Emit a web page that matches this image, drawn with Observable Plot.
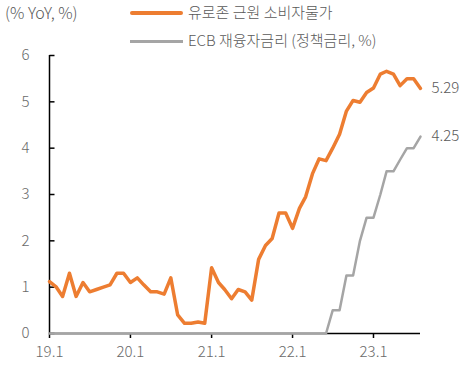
<!DOCTYPE html>
<html><head><meta charset="utf-8">
<script src="https://cdn.jsdelivr.net/npm/d3@7"></script>
<script src="https://cdn.jsdelivr.net/npm/@observablehq/plot@0.6"></script>
<style>
body{margin:0;background:#fff;font-family:"Noto Sans CJK KR","Noto Sans",sans-serif;font-weight:300;}
#wrap{position:relative;width:465px;height:384px;}
.lg{position:absolute;font-size:15px;color:#595959;white-space:nowrap;line-height:1;font-weight:300;}
.sw{position:absolute;}
</style></head><body>
<div id="wrap">
  <div class="lg" style="left:5px;top:4px;font-size:16px;">(% YoY, %)</div>
  <div class="sw" style="left:130px;top:11px;width:53px;height:4px;background:#ED7D31;border-radius:2px;"></div>
  <div class="lg" style="left:188px;top:4px;">유로존 근원 소비자물가</div>
  <div class="sw" style="left:130px;top:40px;width:53px;height:2.5px;background:#A5A5A5;"></div>
  <div class="lg" style="left:188px;top:32px;">ECB 재융자금리 (정책금리, %)</div>
  <div id="chart" style="position:absolute;left:0;top:0;"></div>
</div>
<script>
const coreHICP = [
  1.12, 1.0, 0.8, 1.3, 0.8, 1.1, 0.9, 0.95, 1.0, 1.05, 1.3, 1.3,
  1.1, 1.2, 1.05, 0.9, 0.9, 0.85, 1.2, 0.4, 0.22, 0.22, 0.25, 0.22,
  1.42, 1.1, 0.95, 0.75, 0.95, 0.9, 0.72, 1.6, 1.9, 2.05, 2.6, 2.6,
  2.27, 2.7, 2.95, 3.45, 3.77, 3.73, 4.0, 4.3, 4.8, 5.03, 4.99, 5.2,
  5.3, 5.6, 5.66, 5.6, 5.35, 5.5, 5.5, 5.29
];
const ecbRate = [
  0,0,0,0,0,0,0,0,0,0,0,0,
  0,0,0,0,0,0,0,0,0,0,0,0,
  0,0,0,0,0,0,0,0,0,0,0,0,
  0,0,0,0,0,0,0.5,0.5,1.25,1.25,2.0,2.5,
  2.5,3.0,3.5,3.5,3.75,4.0,4.0,4.25
];
const xTickLabels = ["19.1","20.1","21.1","22.1","23.1"];
const yTicks = [0,1,2,3,4,5,6];

const d0 = new Date(2019,0,1);
const monthDate = i => new Date(2019, i, 1);
const core = coreHICP.map((v,i)=>({date:monthDate(i), value:v}));
const ecb = ecbRate.map((v,i)=>({date:monthDate(i), value:v}));
const xTicks = xTickLabels.map((s,i)=>new Date(2019+i,0,1));
const lastDate = monthDate(coreHICP.length-1);
const labelFmt = new Map(xTicks.map((d,i)=>[+d, xTickLabels[i]]));
const inwardTick = {draw(ctx){ ctx.moveTo(0,0); ctx.lineTo(5,0); }};

const plot = Plot.plot({
  width:465, height:384,
  marginLeft:49, marginRight:45, marginTop:55, marginBottom:51,
  style:{fontFamily:'"Noto Sans CJK KR","Noto Sans",sans-serif', fontSize:"15px", fontWeight:300, color:"#6a6a6a", background:"transparent"},
  x:{type:"utc", domain:[d0, lastDate]},
  y:{domain:[0,6]},
  marks:[
    Plot.ruleX([d0], {y1:0, y2:6, stroke:"#000", strokeWidth:1.5}),
    Plot.ruleY([0], {x1:d0, x2:lastDate, stroke:"#000", strokeWidth:1.5}),
    Plot.dot(yTicks, {x:()=>d0, y:d=>d, symbol:inwardTick, stroke:"#000", strokeWidth:1.5, fill:"none", r:5}),
    Plot.axisY({ticks:yTicks, tickSize:0, tickPadding:20, fill:"#6a6a6a", label:null, tickFormat:d=>String(d)}),
    Plot.axisX({ticks:xTicks, tickSize:5, tickPadding:8, stroke:"#000", strokeWidth:1.5, fill:"#6a6a6a", label:null, tickFormat:d=>labelFmt.get(+d)}),
    Plot.line(ecb, {x:"date", y:"value", stroke:"#A5A5A5", strokeWidth:2.5}),
    Plot.line(core, {x:"date", y:"value", stroke:"#ED7D31", strokeWidth:3.5}),
    Plot.text([core[core.length-1], ecb[ecb.length-1]], {x:"date", y:"value", text:d=>d.value.toFixed(2), textAnchor:"start", dx:11, fill:"#595959", fontSize:15})
  ]
});
document.getElementById("chart").appendChild(plot);
</script>
</body></html>
